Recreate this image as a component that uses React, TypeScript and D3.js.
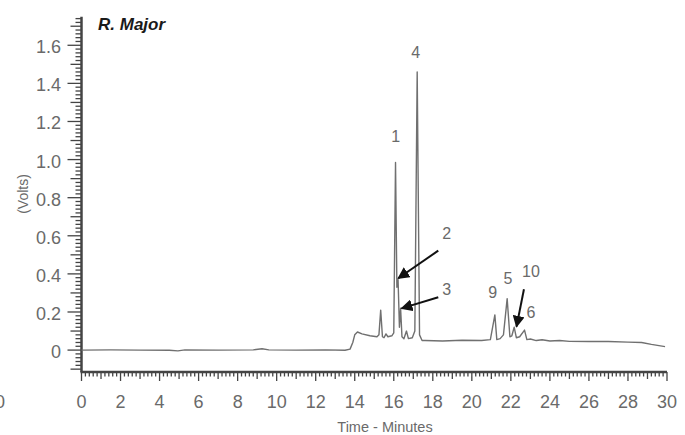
import React from 'react';
import * as d3 from 'd3';

// chromatogram trace (minutes, volts)
const times = [
  0, 1.5, 3, 4.5, 4.94, 5.3, 7, 8.8, 9.25, 9.6, 11, 12.5, 13.5, 13.76, 13.9, 14.0, 14.14,
  14.37, 14.78, 15.14, 15.24, 15.33, 15.42, 15.5, 15.6, 15.7, 15.9, 16.0, 16.09, 16.16,
  16.22, 16.29, 16.35, 16.42, 16.52, 16.65, 16.75, 16.95, 17.08, 17.2, 17.32, 17.45,
  17.6, 18.5, 19.5, 20.5, 20.95, 21.18, 21.28, 21.45, 21.62, 21.81, 21.95, 22.05, 22.17,
  22.28, 22.45, 22.7, 22.82, 23.0, 23.3, 23.6, 24.0, 24.5, 25.0, 26.0, 27.0, 28.0, 28.7,
  29.2, 29.9,
];
const volts = [
  0, 0.001, 0, -0.001, -0.004, 0.001, 0, 0.001, 0.007, 0.001, 0, 0.001, -0.001, 0.005,
  0.04, 0.08, 0.095, 0.085, 0.075, 0.07, 0.08, 0.21, 0.07, 0.065, 0.085, 0.07, 0.075,
  0.09, 0.985, 0.33, 0.37, 0.12, 0.22, 0.07, 0.06, 0.1, 0.06, 0.065, 0.1, 1.46, 0.08,
  0.05, 0.05, 0.048, 0.052, 0.05, 0.055, 0.185, 0.055, 0.06, 0.08, 0.27, 0.07, 0.075,
  0.12, 0.065, 0.07, 0.105, 0.055, 0.058, 0.05, 0.054, 0.048, 0.05, 0.046, 0.045, 0.045,
  0.042, 0.04, 0.03, 0.018,
];

const yTickLabels = ['0', '0.2', '0.4', '0.6', '0.8', '1.0', '1.2', '1.4', '1.6'];
const xTickLabels = ['0', '2', '4', '6', '8', '10', '12', '14', '16', '18', '20', '22', '24', '26', '28', '30'];

// peak labels, placed in data units
const peakNames = ['1', '4', '2', '3', '9', '5', '10', '6'];
const peakLabelAt = [
  [16.1, 1.092], [17.12, 1.533], [18.71, 0.583], [18.71, 0.289],
  [21.07, 0.273], [21.85, 0.347], [23.03, 0.384], [23.03, 0.168],
];
// arrows: [fromT, fromV, toT, toV]
const arrows = [
  [18.28, 0.522, 16.23, 0.377],
  [18.28, 0.277, 16.4, 0.219],
  [22.67, 0.319, 22.29, 0.123],
];

const W = 685;
const H = 435;
const FONT = "'Liberation Sans', Arial, Helvetica, sans-serif";
const GREY = '#6a6a6a';
const AXIS = '#444';

export default function App() {
  const x = d3.scaleLinear().domain([0, 30]).range([81.5, 667]);
  const y = d3.scaleLinear().domain([-0.115, 1.75]).range([372, 16.7]);

  const line = d3.line<number>()
    .x((d, i) => x(times[i]))
    .y((d) => y(d));

  const yTicks = d3.range(-5, 88).map(i => ({v: i * 0.02, i}));
  const xTicks = d3.range(0, 151).map(i => ({t: i * 0.2, i}));

  return (
    <svg width={W} height={H} style={{position: 'absolute', left: 0, top: 0, background: '#fff'}}>
      <defs>
        <marker id="head" viewBox="0 0 10 10" refX="9" refY="5" markerWidth="6" markerHeight="6"
                markerUnits="strokeWidth" orient="auto">
          <path d="M0,0 L10,5 L0,10 z" fill="#111"/>
        </marker>
      </defs>

      {/* y axis */}
      {yTicks.map(({v, i}) => {
        const len = i % 10 === 0 ? 14 : i % 5 === 0 ? 11 : 6;
        return <line key={'y' + i} x1={81.5 - len} x2={81.5} y1={y(v)} y2={y(v)}
                     stroke={AXIS} strokeWidth={1.3}/>;
      })}
      <line x1={81.5} x2={81.5} y1={y(1.75)} y2={372} stroke={AXIS} strokeWidth={2.5}/>
      {yTickLabels.map((s, k) => (
        <text key={'yl' + k} x={61} y={y(k * 0.2) + 2} textAnchor="end" dominantBaseline="central"
              fontFamily={FONT} fontSize={18} fill={GREY}>{s}</text>
      ))}

      {/* x axis */}
      {xTicks.map(({t, i}) => {
        const len = i % 10 === 0 ? 9 : i % 5 === 0 ? 7 : 4.5;
        return <line key={'x' + i} x1={x(t)} x2={x(t)} y1={372} y2={372 + len}
                     stroke={AXIS} strokeWidth={1.3}/>;
      })}
      <line x1={80.5} x2={x(30)} y1={372} y2={372} stroke={AXIS} strokeWidth={2.5}/>
      {xTickLabels.map((s, k) => (
        <text key={'xl' + k} x={x(k * 2)} y={408} textAnchor="middle"
              fontFamily={FONT} fontSize={18} fill={GREY}>{s}</text>
      ))}
      <text x={-5} y={408} fontFamily={FONT} fontSize={18} fill={GREY}>0</text>

      {/* titles */}
      <text x={385} y={432} textAnchor="middle" fontFamily={FONT} fontSize={14.5} fill={GREY}>Time - Minutes</text>
      <text transform="translate(28,194) rotate(-90)" textAnchor="middle" fontFamily={FONT}
            fontSize={14} fill={GREY}>(Volts)</text>
      <text x={98} y={30} fontFamily={FONT} fontSize={17} fontWeight="bold" fontStyle="italic"
            fill="#1a1a1a">R. Major</text>

      {/* trace */}
      <path d={line(volts) || ''} fill="none" stroke="#707070" strokeWidth={1.4} strokeLinejoin="round"/>

      {/* annotations */}
      {peakNames.map((s, k) => (
        <text key={'p' + k} x={x(peakLabelAt[k][0])} y={y(peakLabelAt[k][1])} textAnchor="middle"
              fontFamily={FONT} fontSize={16} fill={GREY}>{s}</text>
      ))}
      {arrows.map((a, k) => (
        <line key={'a' + k} x1={x(a[0])} y1={y(a[1])} x2={x(a[2])} y2={y(a[3])}
              stroke="#111" strokeWidth={2} markerEnd="url(#head)"/>
      ))}
    </svg>
  );
}
